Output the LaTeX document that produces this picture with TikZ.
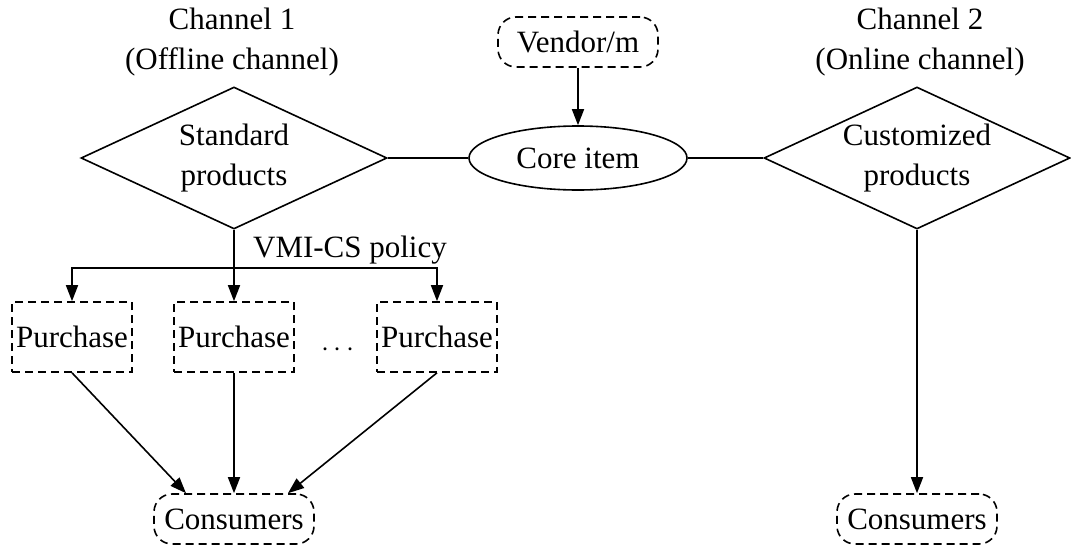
\documentclass[tikz,border=0pt]{standalone}
\usepackage{fontspec}
\setmainfont{Liberation Serif}
\usetikzlibrary{arrows.meta,shapes}

\begin{document}
\begin{tikzpicture}[x=0.5pt,y=-0.5pt,>={Triangle[length=8pt,width=6pt]},
  font=\fontsize{15.5}{20}\selectfont]
  \tikzstyle{product}=[diamond,draw,line width=0.8pt,inner sep=0pt,aspect=2.3,
                       minimum width=153pt,minimum height=71pt,align=center]
  \tikzstyle{dashbox}=[rectangle,draw,line width=0.8pt,dash pattern=on 4pt off 2.5pt]
  \tikzstyle{party}=[dashbox,rounded corners=9pt,minimum width=80pt,minimum height=25pt]
  \tikzstyle{purchase}=[dashbox,inner sep=0pt,minimum width=60pt,minimum height=35pt]
  \tikzstyle{link}=[line width=0.8pt]
  \useasboundingbox (0,0) rectangle (1071,546);

  % channel titles
  \node [align=center] (ch1) at (232,42) {Channel 1\\(Offline channel)};
  \node [align=center] (ch2) at (920,42) {Channel 2\\(Online channel)};

  % top row
  \node [party] (vendor) at (578,42) {Vendor/m};
  \node [ellipse,draw,line width=0.8pt,minimum width=109pt,minimum height=32pt]
    (core) at (578,158) {Core item}
    edge [link,<-] (vendor);
  \node [product] (std) at (234,158) {Standard\\products}
    edge [link] (core);
  \node [product] (cust) at (917,158) {Customized\\products}
    edge [link] (core);

  % offline side
  \coordinate (split) at (234,268);
  \node (policy) at (350,250) {VMI-CS policy};
  \node [purchase] (p1) at (72,337) {Purchase};
  \node [purchase] (p2) at (234,337) {Purchase};
  \node [purchase] (p3) at (437,337) {Purchase};
  \node (dots) at (338,350) {$\cdots$};
  \node [party] (cons1) at (234,519) {Consumers};
  \draw [link,->] (std) -- (p2);
  \draw [link,->] (split) -| (p1);
  \draw [link,->] (split) -| (p3);
  \draw [link,->] (p1.south) -- ([xshift=-24pt]cons1.north);
  \draw [link,->] (p2) -- (cons1);
  \draw [link,->] (p3.south) -- ([xshift=27pt]cons1.north);

  % online side
  \node [party] (cons2) at (917,519) {Consumers};
  \draw [link,->] (cust) -- (cons2);
\end{tikzpicture}
\end{document}
